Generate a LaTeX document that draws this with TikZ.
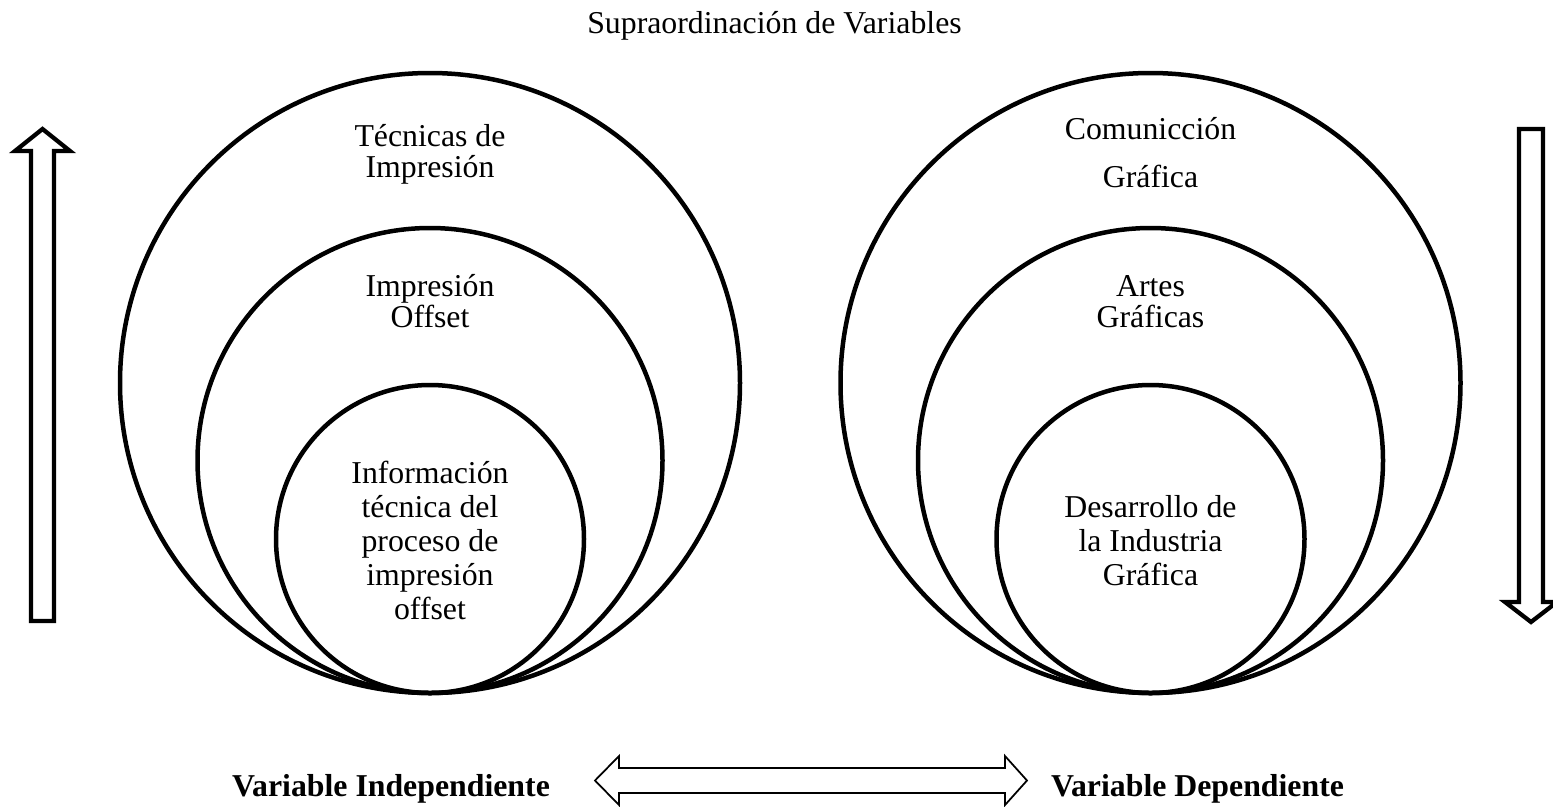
\documentclass[tikz,border=0pt]{standalone}
\usepackage{fontspec}
\setmainfont{Liberation Serif}
\begin{document}
\begin{tikzpicture}[x = 0.02cm, y = -0.02cm,
	ring/.style = {line width = 0.09cm},
	blockarrow/.style = {line width = 0.085cm, miter limit = 10},
	thinarrow/.style = {line width = 0.035cm},
	label/.style = {align = center, anchor = base, inner sep = 0pt, font = \fontsize{18.1}{17.6}\selectfont},
	core/.style = {label, font = \fontsize{18.1}{19.3}\selectfont},
	bold/.style = {anchor = base, inner sep = 0pt, font = \fontsize{18.1}{17.6}\selectfont\bfseries}]
	\useasboundingbox (0, 0) rectangle (1553, 806);
	\node[label] (titulo) at (774.5, 33) {Supraordinación de Variables};
	\foreach \cx in {430, 1150.5}
	{
		\foreach \r in {310, 232.5, 154}
		{
			\draw[ring] (\cx, {693 - \r}) circle[radius = \r];
		}
	}
	% las etiquetas se ubican por la linea de base de su ultima linea
	\node[label] (tecnicas) at (430, 177) {Técnicas de\\Impresión};
	\node[label] (offset) at (430, 327) {Impresión\\Offset};
	\node[core] (info) at (430, 619) {Información\\técnica del\\proceso de\\impresión\\offset};
	\node[label] (comunic) at (1150.5, 187) {Comunicción\\[0.34cm]Gráfica};
	\node[label] (artes) at (1150.5, 327) {Artes\\Gráficas};
	\node[core] (desarrollo) at (1150.5, 585) {Desarrollo de\\la Industria\\Gráfica};
	% flechas
	\draw[blockarrow] (31, 621) -- (31, 151) -- (15, 151) -- (42.5, 129) -- (70, 151) -- (54, 151) -- (54, 621) -- cycle;
	\draw[blockarrow] (1519, 129) -- (1519, 602) -- (1505, 602) -- (1531, 622) -- (1557, 602) -- (1543, 602) -- (1543, 129) -- cycle;
	\node[bold] (vind) at (391, 796) {Variable Independiente};
	\node[bold] (vdep) at (1197.5, 796) {Variable Dependiente};
	\draw[thinarrow] (619, 768) -- (1005, 768) -- (1005, 756) -- (1027, 780.5) -- (1005, 805) -- (1005, 793) -- (619, 793) -- (619, 805) -- (595, 780.5) -- (619, 756) -- cycle;
\end{tikzpicture}
\end{document}
